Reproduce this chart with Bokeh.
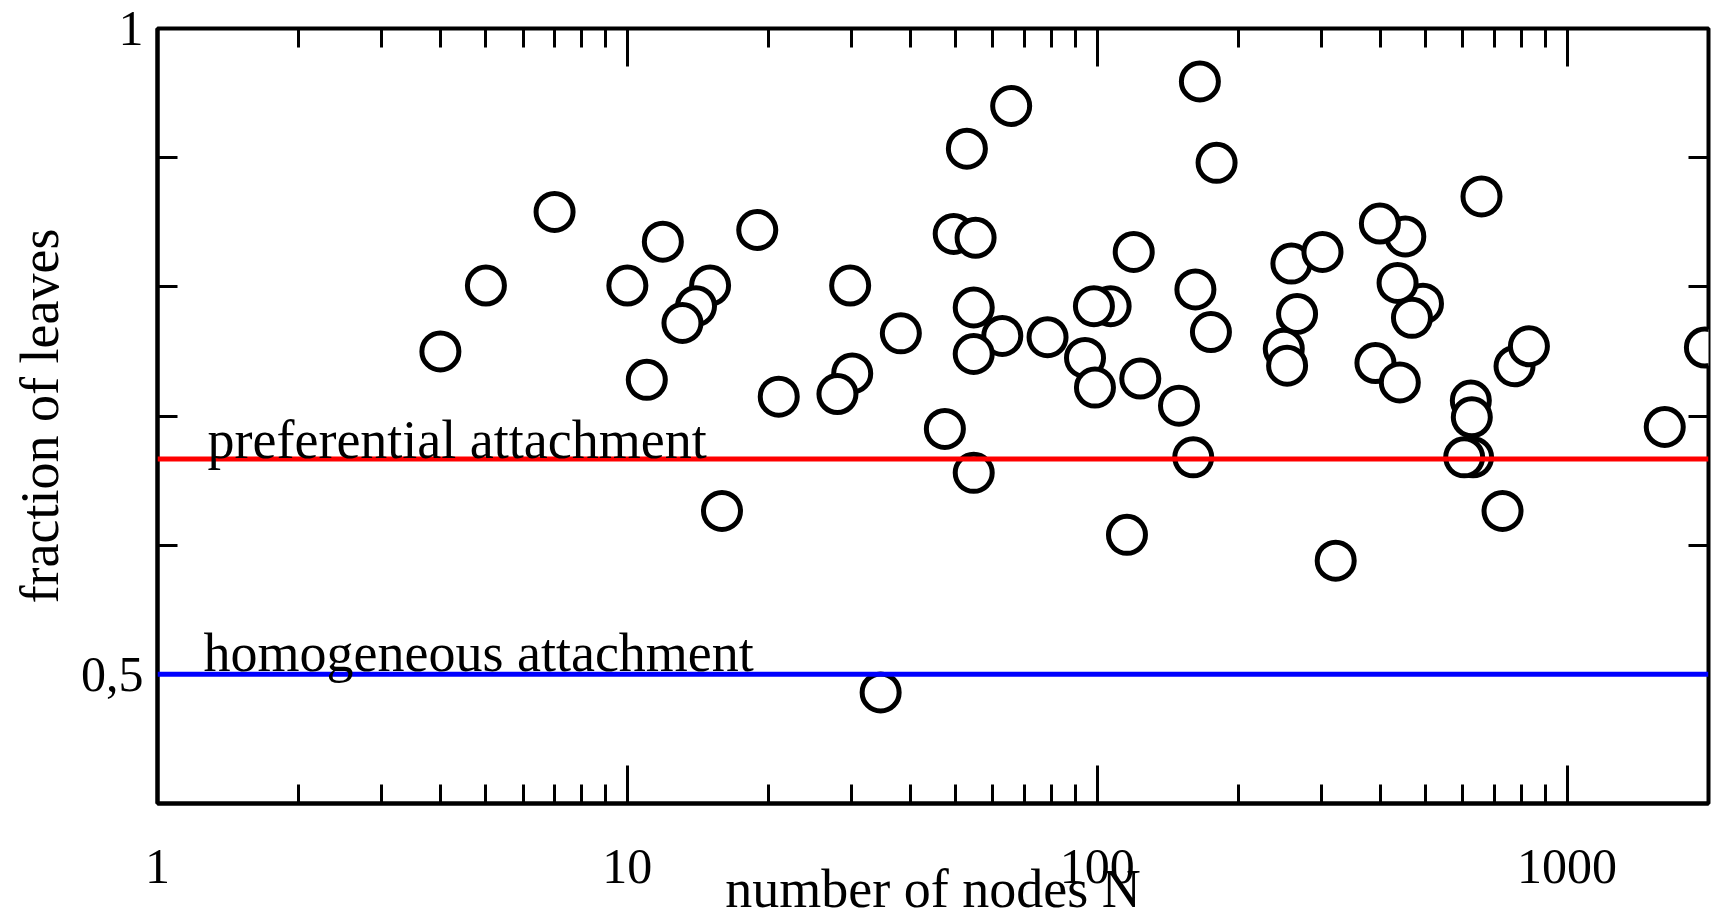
from bokeh.plotting import figure
from bokeh.models import (FixedTicker, CustomJSTickFormatter, LinearAxis, LogAxis,
                          Span, Label, Range1d, ColumnDataSource)
from bokeh.embed import file_html
from bokeh.resources import INLINE

# ---- data ----
nodes = [4.0, 5.0, 7.0, 10.0, 11.0, 11.9, 15.0, 14.0, 13.1, 15.9, 18.9, 21.0,
         29.8, 30.1, 28.0, 38.2, 34.6, 47.4, 49.5, 55.1, 52.8, 62.8, 54.6, 54.6,
         54.6, 65.6, 78.4, 106.8, 98.4, 94.2, 98.9, 115.7, 119.6, 123.5, 149.3,
         160.1, 161.8, 165.4, 174.6, 179.5, 249.5, 253.6, 259.0, 266.3, 301.6,
         321.8, 391.0, 452.6, 399.6, 493.6, 435.8, 467.6, 440.6, 624.0, 627.0,
         631.0, 604.0, 657.5, 728.9, 773.0, 829.5, 1614.0, 1965.0]
leaf_fraction = [0.750, 0.801, 0.858, 0.801, 0.728, 0.835, 0.801, 0.785, 0.772,
                 0.6265, 0.844, 0.715, 0.801, 0.733, 0.717, 0.764, 0.486, 0.690,
                 0.841, 0.838, 0.907, 0.762, 0.784, 0.748, 0.656, 0.940, 0.761,
                 0.785, 0.785, 0.745, 0.722, 0.608, 0.827, 0.729, 0.708, 0.668,
                 0.798, 0.959, 0.765, 0.896, 0.752, 0.739, 0.818, 0.779, 0.827,
                 0.588, 0.741, 0.839, 0.849, 0.787, 0.803, 0.776, 0.726, 0.712,
                 0.699, 0.668, 0.668, 0.870, 0.6265, 0.7385, 0.754, 0.6915, 0.753]

x_major = [1, 10, 100, 1000]
x_minor = [2, 3, 4, 5, 6, 7, 8, 9, 20, 30, 40, 50, 60, 70, 80, 90,
           200, 300, 400, 500, 600, 700, 800, 900, 2000]
y_major = [0.5, 1.0]
y_minor = [0.4, 0.6, 0.7, 0.8, 0.9]
y_labels = {"0.5": "0,5", "1": "1"}

X_MIN, X_MAX = 1, 2000
Y_MIN, Y_MAX = 0.4, 1.0
PREF_LEVEL = 2.0 / 3.0
HOMO_LEVEL = 0.5
pref_text = "preferential attachment"
homo_text = "homogeneous attachment"
x_title = "number of nodes N"
y_title = "fraction of leaves"

FONT = "Liberation Serif"

p = figure(width=1732, height=924, x_axis_type="log",
           x_range=Range1d(X_MIN, X_MAX), y_range=Range1d(Y_MIN, Y_MAX),
           output_backend="svg", toolbar_location=None,
           min_border_left=157, min_border_right=24,
           min_border_top=28, min_border_bottom=121)
p.grid.visible = False
p.background_fill_color = "white"
p.border_fill_color = "white"
p.outline_line_color = "black"
p.outline_line_width = 4

# bottom axis
xa = p.xaxis[0]
xa.ticker = FixedTicker(ticks=x_major, minor_ticks=x_minor)
xa.formatter = CustomJSTickFormatter(code="return String(Math.round(tick));")
xa.axis_label = x_title
xa.axis_line_color = "black"
xa.axis_line_width = 4
xa.major_tick_in = 38
xa.major_tick_out = 0
xa.minor_tick_in = 19
xa.minor_tick_out = 0
xa.major_tick_line_width = 3
xa.minor_tick_line_width = 3
xa.major_tick_line_color = "black"
xa.minor_tick_line_color = "black"
xa.major_label_text_font = FONT
xa.major_label_text_font_size = "50px"
xa.major_label_text_color = "black"
xa.major_label_standoff = 46
xa.axis_label_text_font = FONT
xa.axis_label_text_font_size = "54px"
xa.axis_label_text_font_style = "normal"
xa.axis_label_text_color = "black"
xa.axis_label_standoff = -27

# left axis
ya = p.yaxis[0]
ya.ticker = FixedTicker(ticks=y_major, minor_ticks=y_minor)
ya.formatter = CustomJSTickFormatter(args=dict(lab=y_labels),
                                     code="return tick > 0.75 ? lab['1'] : lab['0.5'];")
ya.axis_label = y_title
ya.axis_line_color = "black"
ya.axis_line_width = 4
ya.major_tick_in = 20
ya.major_tick_out = 0
ya.minor_tick_in = 20
ya.minor_tick_out = 0
ya.major_tick_line_width = 3
ya.minor_tick_line_width = 3
ya.major_tick_line_color = "black"
ya.minor_tick_line_color = "black"
ya.major_label_text_font = FONT
ya.major_label_text_font_size = "50px"
ya.major_label_text_color = "black"
ya.major_label_standoff = 14
ya.axis_label_text_font = FONT
ya.axis_label_text_font_size = "54px"
ya.axis_label_text_font_style = "normal"
ya.axis_label_text_color = "black"
ya.axis_label_standoff = 8

# mirrored ticks on top and right
top_long = LogAxis(ticker=FixedTicker(ticks=[], minor_ticks=x_major))
top_short = LogAxis(ticker=FixedTicker(ticks=[], minor_ticks=x_minor))
for ax, ln in [(top_long, 38), (top_short, 19)]:
    ax.axis_line_color = None
    ax.minor_tick_in = ln
    ax.minor_tick_out = 0
    ax.minor_tick_line_width = 3
    ax.minor_tick_line_color = "black"
    ax.major_tick_line_color = None
    p.add_layout(ax, "above")
right_ax = LinearAxis(ticker=FixedTicker(ticks=[], minor_ticks=y_major + y_minor))
right_ax.axis_line_color = None
right_ax.minor_tick_in = 20
right_ax.minor_tick_out = 0
right_ax.minor_tick_line_width = 3
right_ax.minor_tick_line_color = "black"
right_ax.major_tick_line_color = None
p.add_layout(right_ax, "right")

src = ColumnDataSource(dict(n=nodes, f=leaf_fraction))
p.scatter("n", "f", source=src, marker="circle", size=37,
          fill_color="white", line_color="black", line_width=5)

p.add_layout(Span(location=PREF_LEVEL, dimension="width", line_color="#ff0000", line_width=5))
p.add_layout(Span(location=HOMO_LEVEL, dimension="width", line_color="#0000ff", line_width=5))

p.add_layout(Label(x=X_MIN, y=PREF_LEVEL, x_offset=50, y_offset=19, text=pref_text,
                   text_font=FONT, text_font_size="54px", text_color="black",
                   text_baseline="alphabetic", text_align="left"))
p.add_layout(Label(x=X_MIN, y=HOMO_LEVEL, x_offset=46, y_offset=21, text=homo_text,
                   text_font=FONT, text_font_size="54px", text_color="black",
                   text_baseline="alphabetic", text_align="left"))

open("out.html", "w").write(file_html(p, INLINE))
